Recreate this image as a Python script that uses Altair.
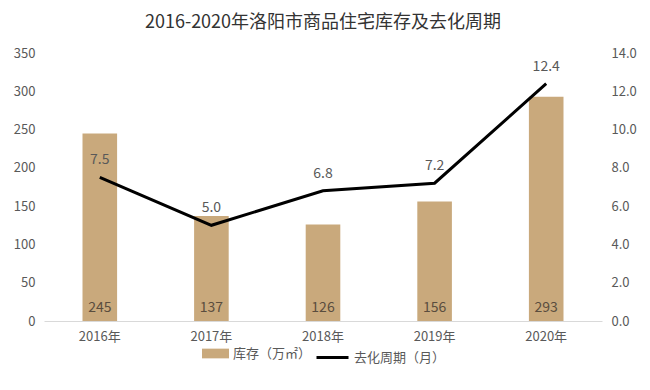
import altair as alt
import pandas as pd

years = ["2016年", "2017年", "2018年", "2019年", "2020年"]
stock = [245, 137, 126, 156, 293]
cycle = [7.5, 5.0, 6.8, 7.2, 12.4]
left_ticks = [0, 50, 100, 150, 200, 250, 300, 350]
right_ticks = [0, 2, 4, 6, 8, 10, 12, 14]
bar_name = "库存（万㎡）"
line_name = "去化周期（月）"

df = pd.DataFrame({"year": years, "stock": stock, "cycle": cycle,
                   "s1": bar_name, "s2": line_name})

FONT = "Noto Sans CJK SC"
TAN = "#C9A97C"

x = alt.X("year:N", sort=years, title=None,
          scale=alt.Scale(paddingInner=0.69, paddingOuter=0.345),
          axis=alt.Axis(labelAngle=0, ticks=False, domainColor="#d9d9d9",
                        labelColor="#595959", labelFontSize=13, labelPadding=9,
                        labelFont=FONT))

left_axis = alt.Axis(values=left_ticks, grid=False, domain=False,
                     ticks=False, labelColor="#595959", labelFontSize=13,
                     labelPadding=9, labelFont=FONT, labelOverlap=False)
right_axis = alt.Axis(orient="right", values=right_ticks, format=".1f",
                      grid=False, domain=False, ticks=False, labelColor="#595959",
                      labelFontSize=13, labelPadding=9, labelFont=FONT,
                      labelOverlap=False)
left_scale = alt.Scale(domain=[0, 350])
right_scale = alt.Scale(domain=[0, 14])

base = alt.Chart(df)

bars = base.mark_bar(color=TAN).encode(
    x=x, y=alt.Y("stock:Q", title=None, scale=left_scale, axis=left_axis),
    fill=alt.Fill("s1:N", title=None,
                  scale=alt.Scale(domain=[bar_name], range=[TAN]),
                  legend=alt.Legend(orient="none", legendX=158, legendY=287,
                                    symbolType="M-1,-0.36H1V0.36H-1Z", symbolSize=729,
                                    labelFontSize=13, labelColor="#595959",
                                    labelFont=FONT, symbolStrokeWidth=0)))
bar_text = base.transform_calculate(base0="0").mark_text(
    dy=-13, fontSize=14, color="#5a4d3e", font=FONT).encode(
    x=x, y=alt.Y("base0:Q", title=None, scale=left_scale, axis=left_axis),
    text=alt.Text("stock:Q"))

left = alt.layer(bars, bar_text)

line = base.mark_line(color="black", strokeWidth=3).encode(
    x=x, y=alt.Y("cycle:Q", title=None, scale=right_scale, axis=right_axis),
    stroke=alt.Stroke("s2:N", title=None,
                      scale=alt.Scale(domain=[line_name], range=["black"]),
                      legend=alt.Legend(orient="none", legendX=271, legendY=287,
                                        symbolType="stroke", symbolSize=1024,
                                        symbolStrokeWidth=3,
                                        labelFontSize=13, labelColor="#595959",
                                        labelFont=FONT)))
line_text = base.mark_text(dy=-17, fontSize=14, color="#595959", font=FONT).encode(
    x=x, y=alt.Y("cycle:Q", title=None, scale=right_scale, axis=right_axis),
    text=alt.Text("cycle:Q", format=".1f"))

right = alt.layer(line, line_text)

chart = alt.layer(left, right).resolve_scale(
    y="independent", fill="independent", stroke="independent"
).properties(
    width=558, height=268,
    title=alt.Title("2016-2020年洛阳市商品住宅库存及去化周期", fontSize=18,
                    font=FONT, fontWeight="normal", color="#333333", offset=15),
    padding={"left": 5, "top": 6, "right": 0, "bottom": 2},
).configure_view(stroke=None).configure_legend(labelLimit=200)

chart.save("out.html", embed_options={"renderer": "svg", "actions": False})
